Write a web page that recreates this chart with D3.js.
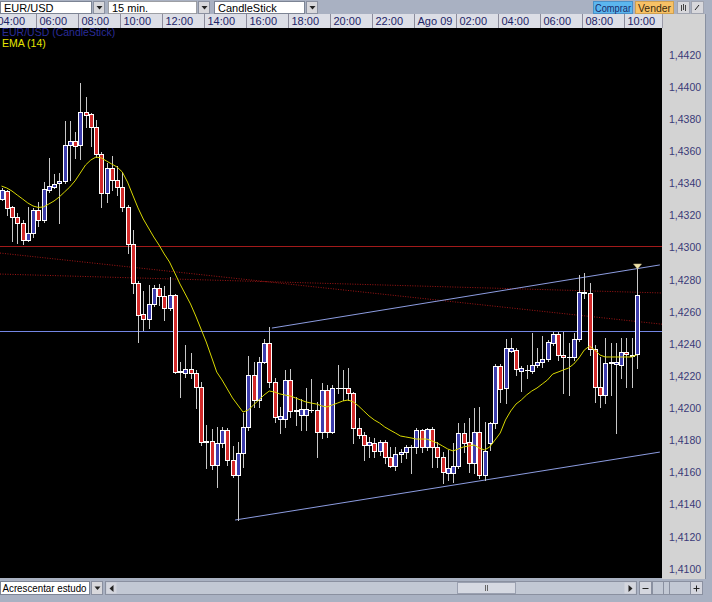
<!DOCTYPE html>
<html><head><meta charset="utf-8">
<script src="https://cdn.jsdelivr.net/npm/d3@7"></script>
<style>html,body{margin:0;padding:0;background:#a9b1c2;overflow:hidden}svg{display:block}</style>
</head><body><svg id="c" width="712" height="602"></svg>
<script>
// ---------- DATA (EUR/USD, 15 min candles, from 04:15) ----------
const openP = [1.43304,1.43353,1.43254,1.43191,1.43154,1.43048,1.43092,1.43235,1.43173,1.43360,
1.43378,1.43403,1.43416,1.43640,1.43665,1.43640,1.43845,1.43833,1.43752,1.43584,
1.43341,1.43497,1.43422,1.43378,1.43254,1.43023,1.42781,1.42588,1.42556,1.42650,
1.42749,1.42700,1.42625,1.42706,1.42233,1.42220,1.42245,1.42220,1.42133,1.41797,
1.41797,1.41647,1.41784,1.41865,1.41679,1.41585,1.41722,1.41884,1.42208,1.42052,
1.42289,1.42407,1.42164,1.41934,1.41934,1.42177,1.41990,1.41959,1.41959,1.41990,
1.41990,1.41853,1.42114,1.41853,1.42127,1.42127,1.42127,1.42096,1.41878,1.41834,
1.41772,1.41784,1.41735,1.41791,1.41697,1.41641,1.41716,1.41728,1.41760,1.41760,
1.41865,1.41760,1.41872,1.41760,1.41697,1.41598,1.41598,1.41641,1.41847,1.41791,
1.41660,1.41853,1.41585,1.41784,1.41909,1.42264,1.42127,1.42357,1.42363,1.42233,
1.42239,1.42233,1.42270,1.42289,1.42307,1.42407,1.42463,1.42332,1.42320,1.42320,
1.42432,1.42725,1.42718,1.42370,1.42133,1.42083,1.42282,1.42276,1.42270,1.42351,
1.42326,1.42339];
const highP = [1.43372,1.43360,1.43260,1.43216,1.43173,1.43254,1.43248,1.43285,1.43409,1.43559,
1.43459,1.43465,1.43789,1.43789,1.43721,1.44026,1.43939,1.43839,1.43795,1.43596,
1.43528,1.43571,1.43509,1.43472,1.43266,1.43111,1.42793,1.42731,1.42768,1.42768,
1.42774,1.42762,1.42818,1.42712,1.42289,1.42395,1.42345,1.42239,1.42164,1.41897,
1.41872,1.41884,1.41884,1.41878,1.41766,1.41791,1.41971,1.42326,1.42289,1.42320,
1.42432,1.42507,1.42189,1.42009,1.42239,1.42245,1.42071,1.42058,1.42127,1.42183,
1.42040,1.42158,1.42146,1.42146,1.42270,1.42239,1.42251,1.42102,1.41940,1.41853,
1.41822,1.41816,1.41803,1.41803,1.41760,1.41760,1.41747,1.41772,1.41772,1.41878,
1.41872,1.41878,1.41884,1.41791,1.41728,1.41741,1.41784,1.41909,1.41909,1.41940,
1.42002,1.42009,1.41915,1.41915,1.42276,1.42276,1.42432,1.42438,1.42376,1.42264,
1.42270,1.42469,1.42376,1.42451,1.42426,1.42475,1.42475,1.42475,1.42407,1.42469,
1.42830,1.42843,1.42781,1.42395,1.42320,1.42438,1.42407,1.42407,1.42438,1.42438,
1.42438,1.42874];
const lowP = [1.43297,1.43204,1.43042,1.43030,1.43023,1.43042,1.43067,1.43135,1.43160,1.43347,
1.43372,1.43154,1.43403,1.43422,1.43559,1.43553,1.43752,1.43634,1.43565,1.43254,
1.43285,1.43360,1.43328,1.43229,1.42967,1.42718,1.42413,1.42488,1.42500,1.42637,
1.42644,1.42550,1.42612,1.42220,1.42071,1.42195,1.42189,1.42002,1.41772,1.41629,
1.41623,1.41511,1.41760,1.41647,1.41573,1.41305,1.41635,1.41865,1.42009,1.42009,
1.42282,1.42133,1.41915,1.41847,1.41884,1.41946,1.41897,1.41865,1.41865,1.41977,
1.41697,1.41816,1.41822,1.41847,1.42096,1.42052,1.42052,1.41784,1.41816,1.41679,
1.41697,1.41697,1.41710,1.41660,1.41635,1.41616,1.41666,1.41691,1.41598,1.41722,
1.41728,1.41741,1.41635,1.41635,1.41535,1.41554,1.41542,1.41629,1.41728,1.41604,
1.41598,1.41567,1.41554,1.41741,1.41878,1.42040,1.42033,1.42351,1.42208,1.42108,
1.42189,1.42220,1.42258,1.42258,1.42295,1.42395,1.42301,1.42096,1.42083,1.42301,
1.42419,1.42687,1.42332,1.42040,1.42009,1.42033,1.42083,1.41847,1.42189,1.42133,
1.42133,1.42251];
const closeP = [1.43360,1.43248,1.43191,1.43154,1.43048,1.43092,1.43235,1.43173,1.43366,1.43384,
1.43397,1.43416,1.43640,1.43665,1.43634,1.43845,1.43827,1.43752,1.43584,1.43341,
1.43497,1.43422,1.43378,1.43254,1.43023,1.42781,1.42581,1.42556,1.42650,1.42749,
1.42700,1.42625,1.42706,1.42226,1.42226,1.42245,1.42220,1.42133,1.41791,1.41791,
1.41647,1.41784,1.41865,1.41679,1.41585,1.41722,1.41884,1.42208,1.42052,1.42289,
1.42407,1.42164,1.41946,1.41953,1.42177,1.41984,1.41984,1.41996,1.41996,1.41990,
1.41853,1.42114,1.41853,1.42127,1.42127,1.42127,1.42096,1.41878,1.41834,1.41772,
1.41791,1.41735,1.41791,1.41697,1.41641,1.41716,1.41728,1.41760,1.41760,1.41865,
1.41760,1.41872,1.41760,1.41697,1.41604,1.41629,1.41641,1.41847,1.41784,1.41660,
1.41853,1.41585,1.41735,1.41909,1.42264,1.42121,1.42376,1.42376,1.42245,1.42251,
1.42239,1.42270,1.42289,1.42307,1.42413,1.42463,1.42332,1.42320,1.42320,1.42432,
1.42725,1.42718,1.42370,1.42133,1.42083,1.42282,1.42289,1.42289,1.42351,1.42339,
1.42332,1.42706];
const emaP = [1.43384,1.43372,1.43353,1.43328,1.43304,1.43279,1.43260,1.43251,1.43254,1.43272,
1.43291,1.43316,1.43347,1.43378,1.43416,1.43465,1.43515,1.43546,1.43565,1.43559,
1.43540,1.43521,1.43503,1.43472,1.43409,1.43328,1.43248,1.43179,1.43123,1.43067,
1.43017,1.42961,1.42911,1.42843,1.42774,1.42712,1.42650,1.42575,1.42494,1.42413,
1.42320,1.42226,1.42177,1.42121,1.42065,1.42021,1.41977,1.41990,1.42021,1.42052,
1.42083,1.42108,1.42102,1.42090,1.42083,1.42077,1.42065,1.42052,1.42040,1.42033,
1.42027,1.42015,1.42009,1.42021,1.42033,1.42046,1.42052,1.42040,1.42015,1.41984,
1.41953,1.41928,1.41909,1.41884,1.41865,1.41847,1.41828,1.41822,1.41816,1.41809,
1.41809,1.41809,1.41797,1.41784,1.41766,1.41747,1.41735,1.41747,1.41760,1.41766,
1.41772,1.41753,1.41741,1.41760,1.41803,1.41847,1.41928,1.41984,1.42027,1.42052,
1.42083,1.42108,1.42127,1.42152,1.42177,1.42214,1.42226,1.42239,1.42251,1.42276,
1.42314,1.42363,1.42388,1.42363,1.42332,1.42320,1.42320,1.42320,1.42320,1.42320,
1.42320,1.42332];
const firstCandle = new Date(2011, 7, 8, 4, 15);
const candleMinutes = 15;
const yTickValues = [1.410,1.412,1.414,1.416,1.418,1.420,1.422,1.424,1.426,1.428,1.430,1.432,1.434,1.436,1.438,1.440,1.442];
// horizontal levels and trendlines (candle index, price)
const levelRed = 1.4301;
const levelBlue = 1.4248;
const dottedA = [[0, 1.42966], [121, 1.42541]];
const dottedB = [[0, 1.42836], [121, 1.42723]];
const trendUp = [[51.5, 1.42500], [125.4, 1.42893]];
const trendLow = [[44.5, 1.41305], [125.4, 1.41728]];

// ---------- LAYOUT ----------
const svg = d3.select('#c');
const W = 712, H = 602;
const plot = {x0: 0, x1: 662, y0: 28, y1: 578};
const font = "'Liberation Sans', Arial, sans-serif";
const tAt = i => new Date(firstCandle.getTime() + i * candleMinutes * 60000);
const data = openP.map((o, i) => ({t: tAt(i), o, h: highP[i], l: lowP[i], c: closeP[i], e: emaP[i]}));

const x = d3.scaleTime().domain([tAt(0), tAt(121)]).range([1.5, 636.75]);
const y = d3.scaleLinear().domain([1.41, 1.442]).range([569, 55]);
const step = x(tAt(1)) - x(tAt(0));

// background panels
svg.append('rect').attr('x',0).attr('y',0).attr('width',W).attr('height',H).attr('fill','#a9b1c2');
svg.append('rect').attr('x',0).attr('y',14).attr('width',662).attr('height',14).attr('fill','#dcdee6');
svg.append('rect').attr('x',662).attr('y',14).attr('width',43).attr('height',565).attr('fill','#d3d3d3');
svg.append('line').attr('x1',705.5).attr('x2',705.5).attr('y1',14).attr('y2',579).attr('stroke','#8890a0');
svg.append('rect').attr('x',plot.x0).attr('y',plot.y0).attr('width',plot.x1-plot.x0).attr('height',plot.y1-plot.y0).attr('fill','#000');
svg.append('line').attr('x1',662.5).attr('x2',662.5).attr('y1',14).attr('y2',28).attr('stroke','#9a9aa8');

svg.append('defs').append('clipPath').attr('id','clip').append('rect')
  .attr('x',plot.x0).attr('y',plot.y0).attr('width',plot.x1-plot.x0).attr('height',plot.y1-plot.y0);

// ---------- toolbar ----------
const tb = svg.append('g');
function combo(g, x0, w, label, dotted){
  g.append('rect').attr('x',x0+0.5).attr('y',1.5).attr('width',w).attr('height',12).attr('fill','#fff')
   .attr('stroke', dotted ? '#666' : '#7c8494').attr('stroke-dasharray', dotted ? '1,1' : null);
  g.append('text').attr('x',x0+4).attr('y',11.5).text(label).attr('font-family',font).attr('font-size',11).attr('fill','#000');
  const bx = x0 + w + 2;
  g.append('rect').attr('x',bx+0.5).attr('y',1.5).attr('width',11).attr('height',12).attr('fill','#d8d8dc').attr('stroke','#8a90a0');
  g.append('path').attr('d',`M${bx+3.5},6 h6 l-3,3.5 z`).attr('fill','#222');
}
combo(tb, 0, 91, 'EUR/USD', false);
combo(tb, 108, 88, '15 min.', true);
combo(tb, 214, 90, 'CandleStick', false);
tb.append('rect').attr('x',593.5).attr('y',1.5).attr('width',39).attr('height',12).attr('fill','#5cb6ee').attr('stroke','#4a90c8');
tb.append('text').attr('x',595).attr('y',11.5).attr('textLength',36).attr('lengthAdjust','spacingAndGlyphs')
  .text('Comprar').attr('font-family',font).attr('font-size',10.5).attr('fill','#1a2a6a');
tb.append('rect').attr('x',635.5).attr('y',1.5).attr('width',38).attr('height',12).attr('fill','#f8c266').attr('stroke','#d0a050');
tb.append('text').attr('x',638).attr('y',11.5).attr('textLength',33).attr('lengthAdjust','spacingAndGlyphs')
  .text('Vender').attr('font-family',font).attr('font-size',10.5).attr('fill','#3a2a10');
[677, 691].forEach((bx, k) => {
  tb.append('rect').attr('x',bx+0.5).attr('y',1.5).attr('width',12).attr('height',12).attr('fill','#d8d8dc').attr('stroke','#a0a4b0');
  if (k === 0) tb.append('path').attr('d',`M${bx+4.5},5 v6 M${bx+6.5},4 v6 M${bx+8.5},5 v6`).attr('stroke','#444').attr('stroke-width',1);
  else tb.append('path').attr('d',`M${bx+4},10 L${bx+8},5`).attr('stroke','#222').attr('stroke-width',1);
});

// ---------- time axis ----------
const xAxisG = svg.append('g');
const tStart = x.invert(-10), tEnd = x.invert(662);
const timeTicks = d3.timeHour.every(2).range(tStart, tEnd);
const fmtHM = d3.timeFormat('%H:%M');
timeTicks.forEach(t => {
  const sx = Math.round(x(t) - step/2) + 0.5;
  xAxisG.append('line').attr('x1',sx).attr('x2',sx).attr('y1',14).attr('y2',28).attr('stroke','#8c8c9c');
  xAxisG.append('text').attr('x',sx+3).attr('y',25).attr('font-family',font).attr('font-size',11).attr('fill','#1c2466')
    .text(t.getHours() === 0 ? 'Ago ' + d3.timeFormat('%d')(t) : fmtHM(t));
});

// ---------- y axis ----------
const locale = d3.formatLocale({decimal: ',', thousands: '.', grouping: [3], currency: ['', '']});
const fmtY = locale.format('.4f');
const yAxisG = svg.append('g');
yTickValues.forEach(v => {
  yAxisG.append('text').attr('x',669).attr('y',y(v)).attr('dy','0.35em').attr('font-family',font)
    .attr('font-size',10.5).attr('fill','#3a3a78').text(fmtY(v));
});

// ---------- plot content ----------
const pg = svg.append('g').attr('clip-path','url(#clip)');
const xi = i => x(tAt(i));
function extLine(pts){
  const [[i0,p0],[i1,p1]] = pts;
  return {x0: xi(i0), y0: y(p0), x1: xi(i1), y1: y(p1)};
}
function fullLine(pts){
  const [[i0,p0],[i1,p1]] = pts;
  const a = xi(i0), b = xi(i1);
  const slope = (y(p1) - y(p0)) / (b - a);
  return {x0: plot.x0, y0: y(p0) + (plot.x0 - a)*slope, x1: plot.x1, y1: y(p0) + (plot.x1 - a)*slope};
}
// horizontal levels
pg.append('line').attr('x1',plot.x0).attr('x2',plot.x1).attr('y1',Math.round(y(levelRed))+0.5).attr('y2',Math.round(y(levelRed))+0.5).attr('stroke','#a21a1a');
pg.append('line').attr('x1',plot.x0).attr('x2',plot.x1).attr('y1',Math.round(y(levelBlue))+0.5).attr('y2',Math.round(y(levelBlue))+0.5).attr('stroke','#7486e4');
// dotted lines
[dottedA, dottedB].forEach(pts => {
  const l = fullLine(pts);
  pg.append('line').attr('x1',l.x0).attr('y1',l.y0).attr('x2',l.x1).attr('y2',l.y1)
    .attr('stroke','#a01616').attr('stroke-dasharray','1,1.5');
});
// trend lines
[trendUp, trendLow].forEach(pts => {
  const l = extLine(pts);
  pg.append('line').attr('x1',l.x0).attr('y1',l.y0).attr('x2',l.x1).attr('y2',l.y1).attr('stroke','#8c9ce0');
});

// candles
const cg = pg.append('g');
data.forEach(d => {
  const cx = Math.round(x(d.t));
  cg.append('line').attr('x1',cx+0.5).attr('x2',cx+0.5).attr('y1',Math.round(y(d.h))).attr('y2',Math.round(y(d.l))+1)
    .attr('stroke','#c8c8c8');
});
data.forEach(d => {
  const cx = Math.round(x(d.t));
  const top = Math.round(y(Math.max(d.o, d.c)));
  const bot = Math.round(y(Math.min(d.o, d.c)));
  const up = d.c > d.o;
  if (bot - top < 2) {
    cg.append('rect').attr('x',cx-2).attr('y',top).attr('width',5).attr('height',Math.max(bot-top,0)+1)
      .attr('fill','#ffffff');
  } else {
    cg.append('rect').attr('x',cx-1.5).attr('y',top+0.5).attr('width',4).attr('height',bot-top)
      .attr('fill', up ? '#3c3cac' : '#d22a2a').attr('stroke','#ffffff').attr('stroke-width',1);
  }
});

// EMA
const emaLine = d3.line().x(d => x(d.t)).y(d => y(d.e));
pg.append('path').datum(data).attr('d', emaLine).attr('fill','none').attr('stroke','#d8d800').attr('stroke-width',1);

// marker on last candle
const last = data[data.length-1];
const mx = Math.round(x(last.t)) + 0.5, my = y(last.h);
pg.append('path').attr('d',`M${mx-4},${my-4} h8 l-4,5 z`).attr('fill','#ece0a8').attr('stroke','#c8b880').attr('stroke-width',0.5);

// legend
svg.append('text').attr('x',2).attr('y',36).attr('font-family',font).attr('font-size',10.5).attr('fill','#2a2c98').text('EUR/USD (CandleStick)');
svg.append('text').attr('x',2).attr('y',47).attr('font-family',font).attr('font-size',10.5).attr('fill','#e6e600').text('EMA (14)');

// ---------- bottom bar ----------
const bb = svg.append('g');
bb.append('rect').attr('x',0.5).attr('y',581.5).attr('width',89).attr('height',13).attr('fill','#fff').attr('stroke','#7c8494');
bb.append('text').attr('x',2.5).attr('y',592).attr('textLength',84).attr('lengthAdjust','spacingAndGlyphs')
  .attr('font-family',font).attr('font-size',10.5).attr('fill','#000').text('Acrescentar estudo');
bb.append('rect').attr('x',91.5).attr('y',581.5).attr('width',11).attr('height',13).attr('fill','#d8d8dc').attr('stroke','#8a90a0');
bb.append('path').attr('d','M94.5,586.5 h6 l-3,3.5 z').attr('fill','#222');
bb.append('rect').attr('x',105.5).attr('y',581.5).attr('width',531).attr('height',13).attr('fill','#c2c8d4').attr('stroke','#8a90a0');
bb.append('rect').attr('x',106.5).attr('y',582.5).attr('width',10).attr('height',11).attr('fill','#d4d6de');
bb.append('path').attr('d','M113.5,585 v7 l-4,-3.5 z').attr('fill','#222');
bb.append('rect').attr('x',457.5).attr('y',582.5).attr('width',58).attr('height',11).attr('fill','#d6d9e2').attr('stroke','#9aa0b0');
bb.append('path').attr('d','M485.5,585 v6 M487.5,585 v6').attr('stroke','#666');
bb.append('rect').attr('x',624.5).attr('y',582.5).attr('width',11).attr('height',11).attr('fill','#d4d6de');
bb.append('path').attr('d','M628.5,585 v7 l4,-3.5 z').attr('fill','#222');
bb.append('rect').attr('x',639.5).attr('y',581.5).attr('width',12).attr('height',13).attr('fill','#d4d6de').attr('stroke','#8a90a0');
bb.append('path').attr('d','M642.5,588.5 h6').attr('stroke','#222');
bb.append('rect').attr('x',652.5).attr('y',581.5).attr('width',38).attr('height',13).attr('fill','#c2c8d4').attr('stroke','#8a90a0');
bb.append('line').attr('x1',663.5).attr('x2',663.5).attr('y1',582).attr('y2',594).attr('stroke','#8a90a0');
bb.append('line').attr('x1',669.5).attr('x2',669.5).attr('y1',582).attr('y2',594).attr('stroke','#8a90a0');
bb.append('rect').attr('x',690.5).attr('y',581.5).attr('width',12).attr('height',13).attr('fill','#d4d6de').attr('stroke','#8a90a0');
bb.append('path').attr('d','M693.5,588.5 h6 M696.5,585.5 v6').attr('stroke','#222');
</script>
</body></html>
